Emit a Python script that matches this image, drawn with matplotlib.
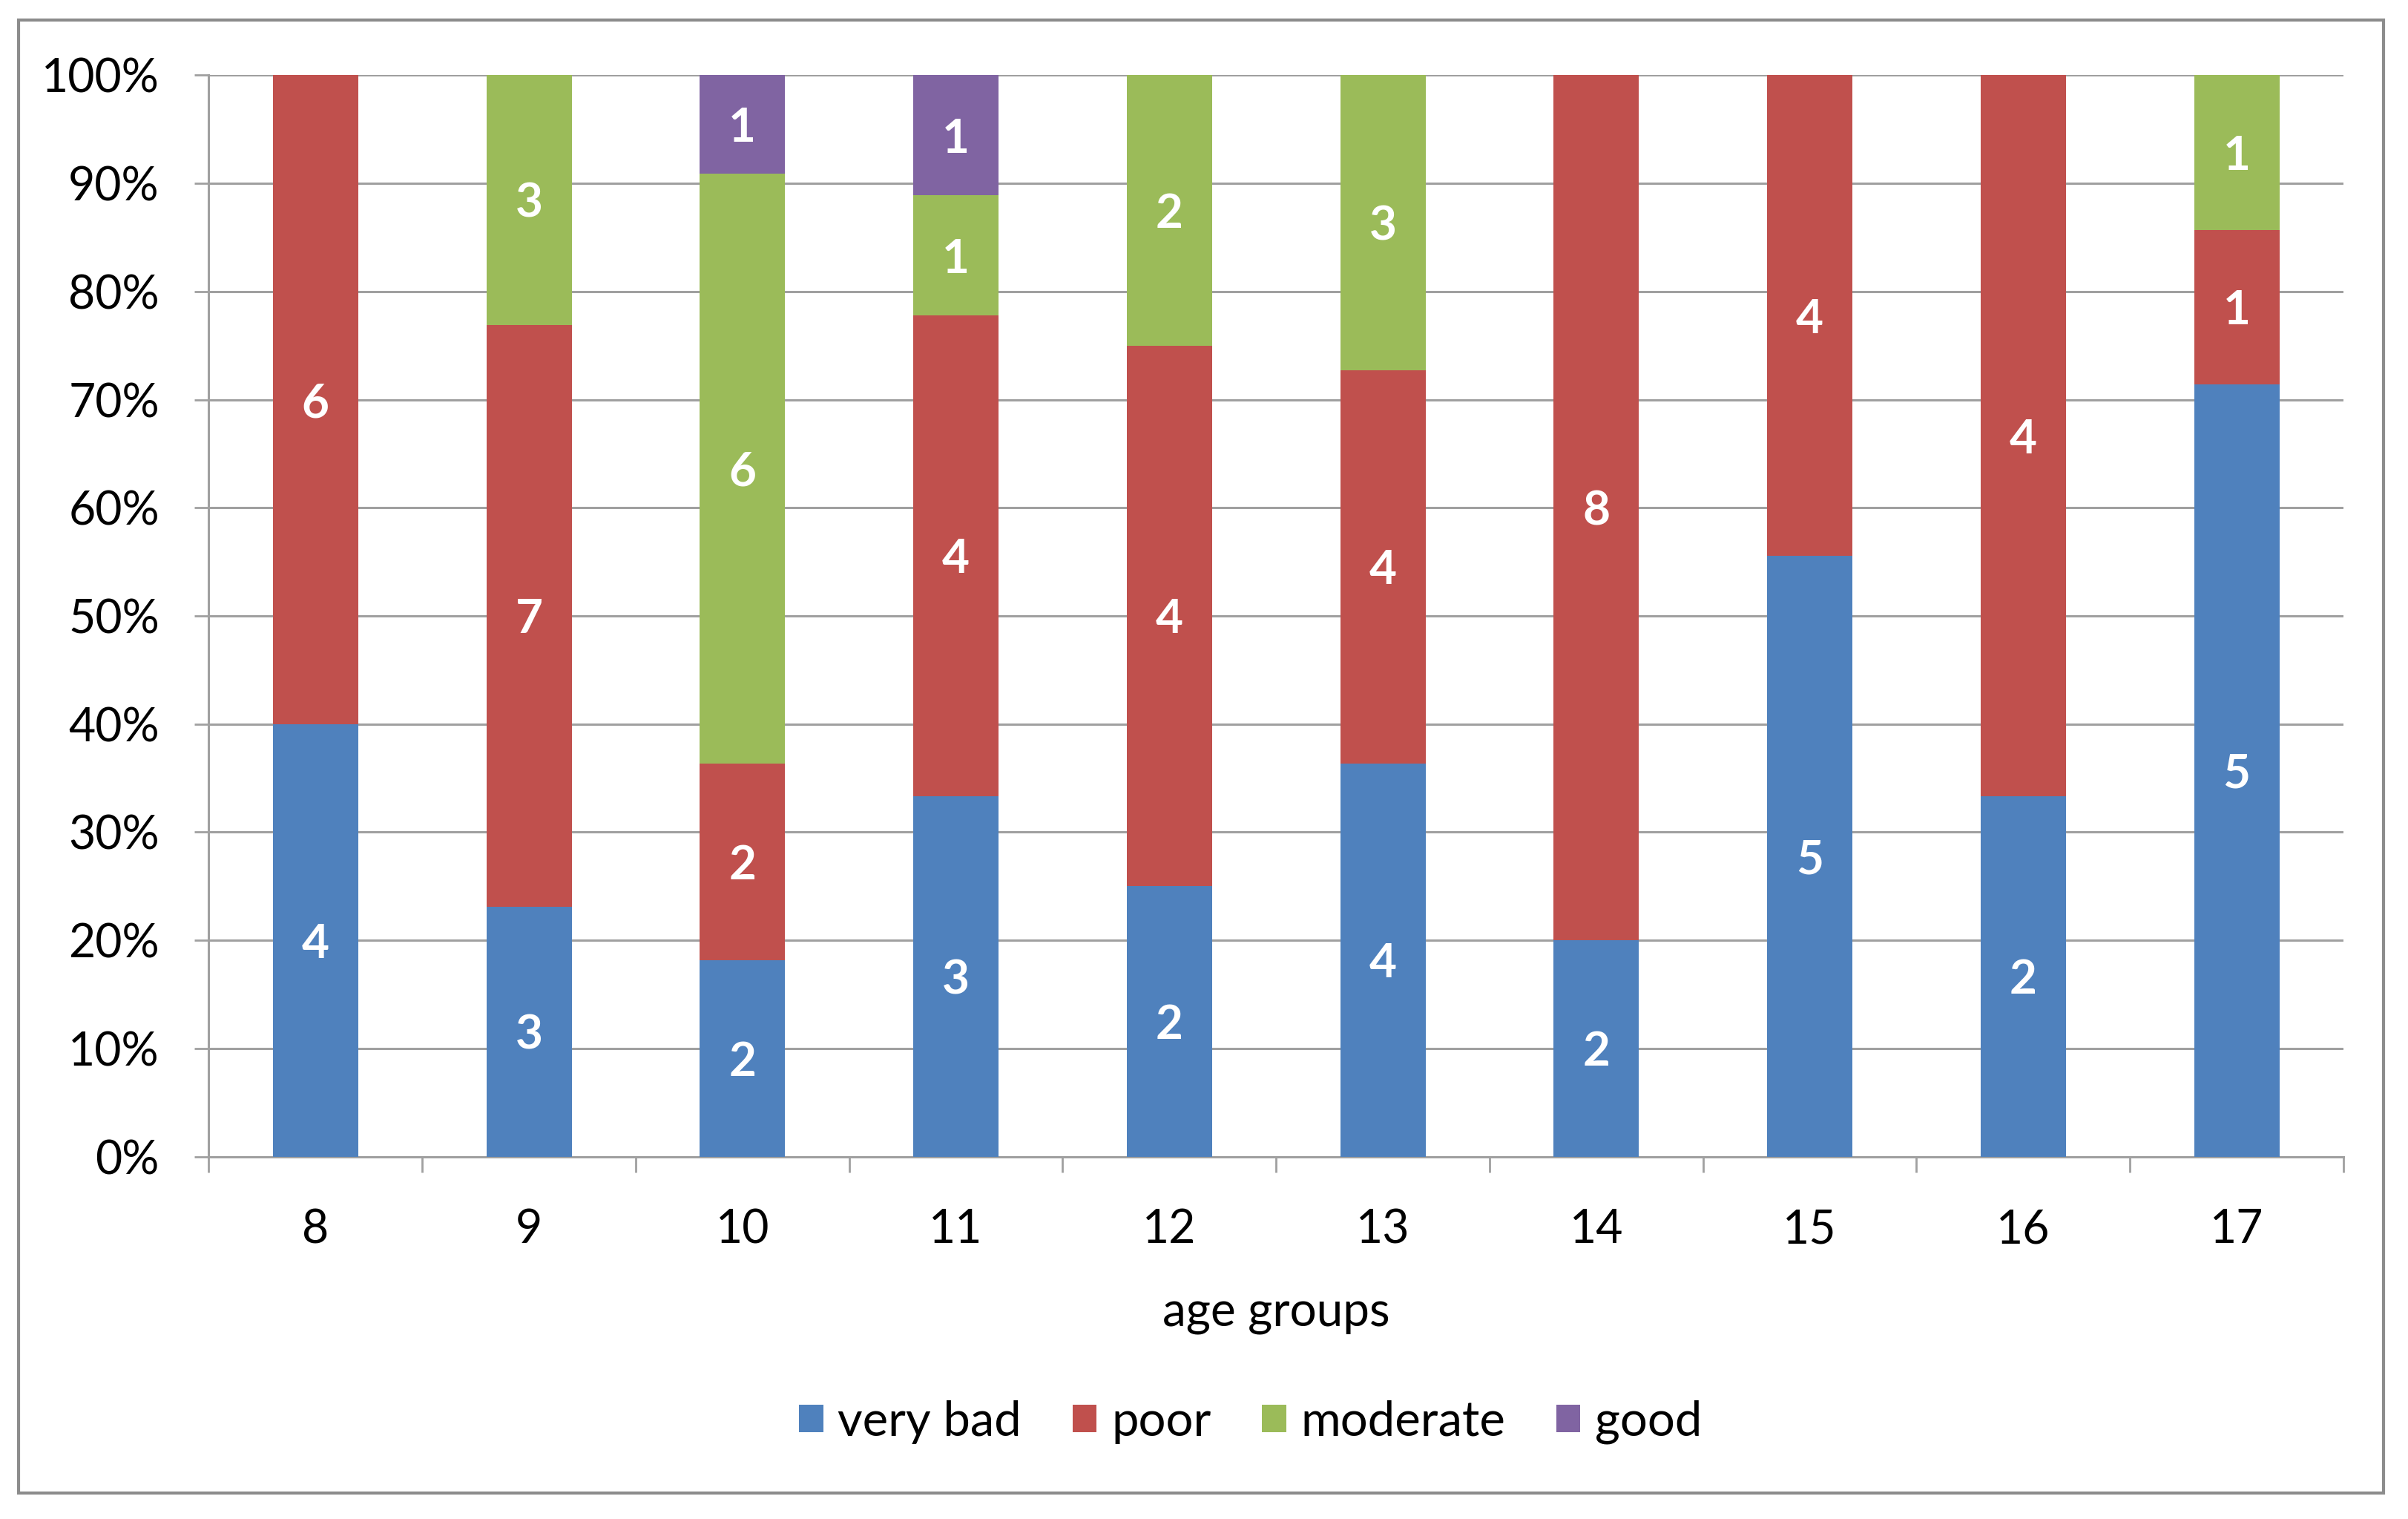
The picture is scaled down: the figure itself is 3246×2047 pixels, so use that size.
import numpy as np
import matplotlib
matplotlib.use("Agg")
from matplotlib import pyplot as plt
from matplotlib.patches import Rectangle
from matplotlib.ticker import FixedLocator, PercentFormatter

plt.rcParams["font.family"] = ["Lato", "DejaVu Sans"]

ages = ["8", "9", "10", "11", "12", "13", "14", "15", "16", "17"]
series = ["very bad", "poor", "moderate", "good"]
very_bad = [4, 3, 2, 3, 2, 4, 2, 5, 2, 5]
poor = [6, 7, 2, 4, 4, 4, 8, 4, 4, 1]
moderate = [0, 3, 6, 1, 2, 3, 0, 0, 0, 1]
good = [0, 0, 1, 1, 0, 0, 0, 0, 0, 0]
colors = ["#4F81BD", "#C0504D", "#9BBB59", "#8064A2"]

counts = np.array([very_bad, poor, moderate, good], dtype=float)
totals = counts.sum(axis=0)
shares = counts / totals

fig = plt.figure(figsize=(32.46, 20.47), dpi=100)
ax = fig.add_axes([0.0867, 0.2386, 0.8865, 0.7119])

x = np.arange(len(ages))
bottom = np.zeros(len(ages))
for name, share, cnt, col in zip(series, shares, counts, colors):
    ax.bar(x, share, 0.4, bottom=bottom, color=col, label=name, zorder=3)
    for xi, b, s, c in zip(x, bottom, share, cnt):
        if c > 0:
            ax.text(xi, b + s / 2, f"{int(c)}", ha="center",
                    va="center_baseline", color="white", fontsize=46,
                    fontweight="bold", zorder=4)
    bottom += share

ax.set_xlim(-0.5, len(ages) - 0.5)
ax.set_ylim(0, 1)
ax.yaxis.set_major_locator(FixedLocator(np.linspace(0, 1, 11)))
ax.yaxis.set_major_formatter(PercentFormatter(1.0, decimals=0))
ax.grid(axis="y", color="#a0a0a0", linewidth=2.2, zorder=0)

ax.set_xticks(x)
ax.set_xticklabels(ages)
ax.xaxis.set_minor_locator(FixedLocator(np.arange(-0.5, len(ages), 1.0)))
ax.tick_params(axis="x", which="major", length=0, pad=50, labelsize=45)
ax.tick_params(axis="x", which="minor", length=15, width=2, color="#a0a0a0",
               direction="out")
ax.tick_params(axis="y", length=14, width=2, color="#a0a0a0", pad=34,
               labelsize=45)

for side in ["top", "right"]:
    ax.spines[side].set_visible(False)
for side in ["left", "bottom"]:
    ax.spines[side].set_color("#a0a0a0")
    ax.spines[side].set_linewidth(2.2)

ax.set_xlabel("age groups", fontsize=46)
ax.xaxis.set_label_coords(0.5, -0.145)
ax.xaxis.label.set_va("center")

ax.legend(loc="center", bbox_to_anchor=(0.488, -0.2457), ncol=4,
          frameon=False, fontsize=47, handlelength=0.5, handleheight=0.5,
          handletextpad=0.3, columnspacing=1.05)

fig.patches.append(Rectangle((0.0077, 0.0172), 0.9821, 0.9697,
                             transform=fig.transFigure, fill=False,
                             edgecolor="#8c8c8c", linewidth=3))

fig.savefig("out.png", dpi=100)
